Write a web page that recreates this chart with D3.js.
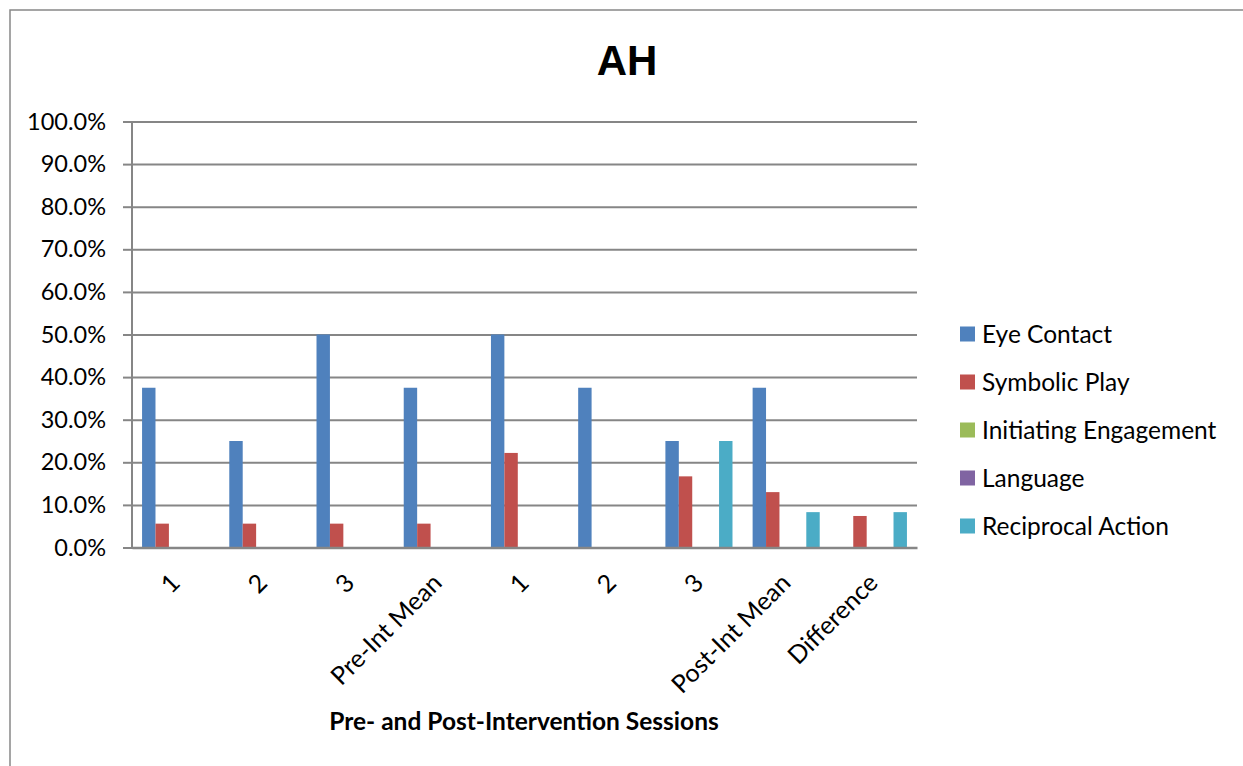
<!DOCTYPE html>
<html>
<head>
<meta charset="utf-8">
<script src="https://d3js.org/d3.v7.min.js"></script>
<style>
  body{margin:0;background:#fff;}
  svg{display:block;}
</style>
</head>
<body>
<svg id="drawing_region"></svg>
<script>
const categories = ["1","2","3","Pre-Int Mean","1","2","3","Post-Int Mean","Difference"];
const series_names = ["Eye Contact","Symbolic Play","Initiating Engagement","Language","Reciprocal Action"];
const eye_contact = [0.375,0.25,0.5,0.375,0.5,0.375,0.25,0.375,0];
const symbolic_play = [0.056,0.056,0.056,0.056,0.222,0,0.167,0.13,0.074];
const initiating = [0,0,0,0,0,0,0,0,0];
const language = [0,0,0,0,0,0,0,0,0];
const reciprocal = [0,0,0,0,0,0,0.25,0.083,0.083];
const y_ticks = [0,0.1,0.2,0.3,0.4,0.5,0.6,0.7,0.8,0.9,1.0];
const colors = ["#4F81BD","#C0504D","#9BBB59","#8064A2","#4BACC6"];

class Bar_chart{
    constructor(config){
        this.config = config;
        this.values = [eye_contact,symbolic_play,initiating,language,reciprocal];
        this.init();
    }
    init(){
        let self = this;
        const c = self.config;
        self.svg = d3.select(c.parent)
            .attr("width",c.width)
            .attr("height",c.height);

        // outer frame (only top and left visible in the window)
        self.svg.append("rect")
            .attr("x",10).attr("y",10)
            .attr("width",c.width+20).attr("height",c.height+20)
            .attr("fill","none")
            .attr("stroke","#888")
            .attr("stroke-width",1.5);

        self.svg.append("text")
            .attr("x",627)
            .attr("y",75)
            .attr("text-anchor","middle")
            .attr("font-family","'Liberation Sans', Arial, sans-serif")
            .attr("font-weight","bold")
            .attr("font-size",42)
            .text("AH");

        self.xscale = d3.scaleBand()
            .domain(d3.range(categories.length))
            .range([c.left,c.right]);
        const bw = self.xscale.bandwidth()/6.5;
        self.sscale = d3.scaleBand()
            .domain(series_names)
            .range([bw*0.75,bw*5.75]);
        self.yscale = d3.scaleLinear()
            .domain([0,1])
            .range([c.bottom,c.top]);
    }
    render(){
        let self = this;
        const c = self.config;
        const font = "Lato, 'Open Sans', sans-serif";

        // gridlines + y axis
        const yaxis = d3.axisLeft(self.yscale)
            .tickValues(y_ticks)
            .tickFormat(d3.format(".1%"))
            .tickSize(9)
            .tickPadding(17);
        const yg = self.svg.append("g")
            .attr("transform",`translate(${c.left},0)`)
            .call(yaxis);
        yg.select(".domain").remove();
        yg.selectAll(".tick line").attr("stroke","#868686").attr("stroke-width",2);
        yg.selectAll(".tick text")
            .attr("font-family",font)
            .attr("font-size",23.5)
            .attr("fill","#000");
        yg.selectAll(".tick").append("line")
            .attr("x1",0).attr("x2",c.right-c.left)
            .attr("stroke","#868686").attr("stroke-width",2);

        self.svg.append("line")
            .attr("x1",c.left).attr("x2",c.left)
            .attr("y1",c.top).attr("y2",c.bottom)
            .attr("stroke","#868686").attr("stroke-width",2);

        // bars
        const groups = self.svg.selectAll(".series")
            .data(series_names)
            .join("g")
            .attr("fill",(d,i)=>colors[i]);
        groups.selectAll("rect")
            .data((d,i)=>self.values[i].map((v,j)=>({s:d,idx:j,v:v})).filter(e=>e.v>0))
            .join("rect")
            .attr("x",d=>self.xscale(d.idx)+self.sscale(d.s))
            .attr("y",d=>self.yscale(d.v))
            .attr("width",self.sscale.bandwidth())
            .attr("height",d=>self.yscale(0)-self.yscale(d.v));

        // x axis
        const xaxis = d3.axisBottom(self.xscale)
            .tickSize(0)
            .tickFormat(i=>categories[i]);
        const xg = self.svg.append("g")
            .attr("transform",`translate(0,${c.bottom})`)
            .call(xaxis);
        xg.select(".domain")
            .attr("stroke","#868686").attr("stroke-width",2.5);
        xg.selectAll(".tick text")
            .attr("font-family",font)
            .attr("font-size",25)
            .attr("fill","#000")
            .attr("text-anchor","end")
            .attr("y",0).attr("dy",0)
            .attr("transform","translate(6,37) rotate(-45)");

        self.svg.append("text")
            .attr("x",524)
            .attr("y",730)
            .attr("text-anchor","middle")
            .attr("font-family",font)
            .attr("font-weight","bold")
            .attr("font-size",24.5)
            .text("Pre- and Post-Intervention Sessions");

        // legend
        const legend = self.svg.selectAll(".legend")
            .data(series_names)
            .join("g")
            .attr("transform",(d,i)=>`translate(960,${334+i*48})`);
        legend.append("rect")
            .attr("x",0).attr("y",-7.5)
            .attr("width",15).attr("height",15)
            .attr("fill",(d,i)=>colors[i]);
        legend.append("text")
            .attr("x",22)
            .attr("y",8.5)
            .attr("font-family",font)
            .attr("font-size",24.5)
            .text(d=>d);
    }
}

const chart = new Bar_chart({
    parent:"#drawing_region",
    width:1243,
    height:766,
    left:132,
    right:917,
    top:121.5,
    bottom:547.5
});
chart.render();
</script>
</body>
</html>
